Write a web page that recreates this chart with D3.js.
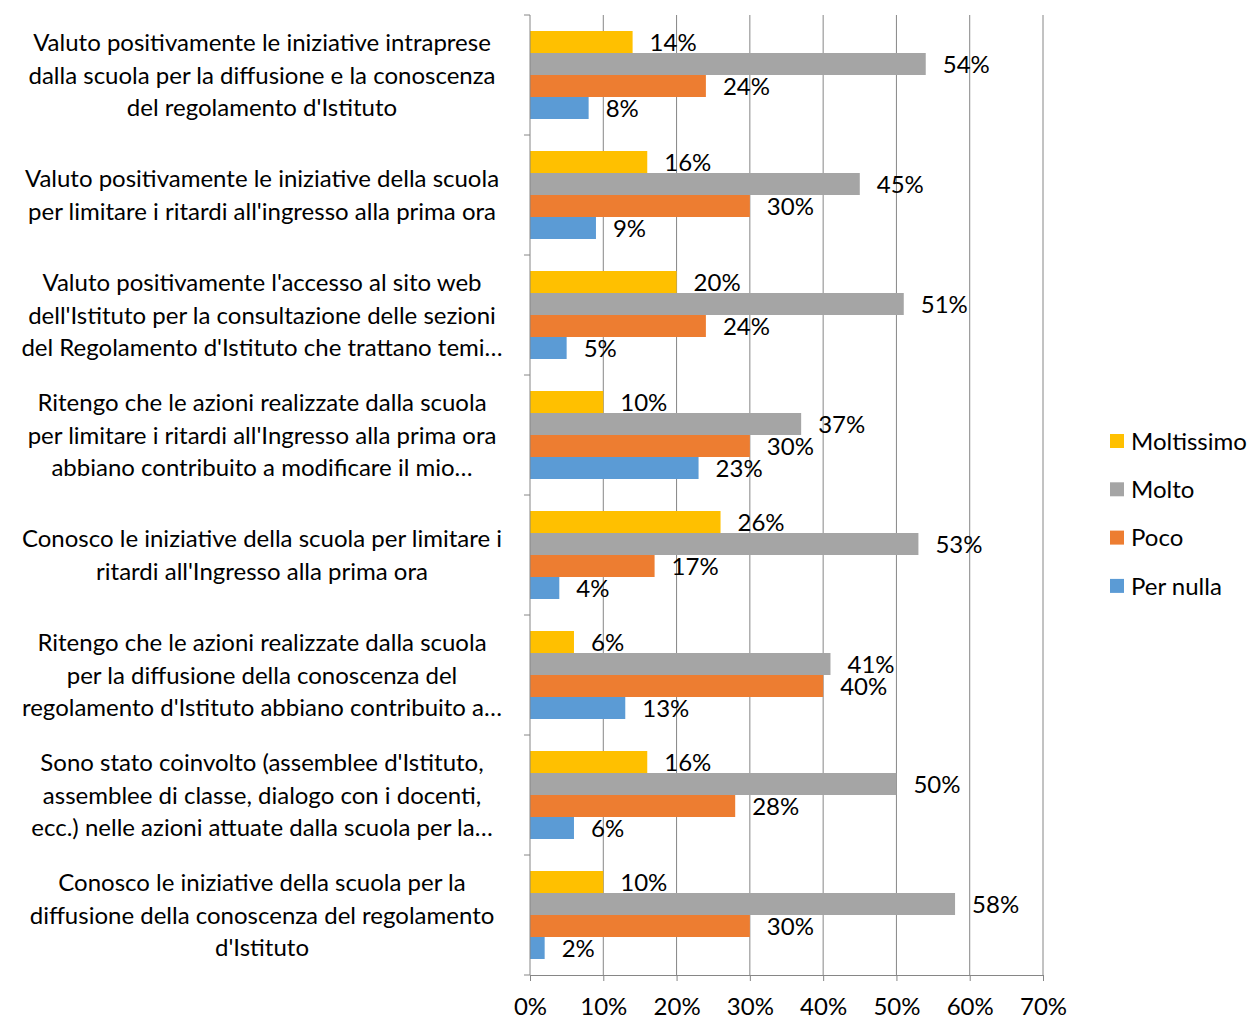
<!DOCTYPE html>
<html>
<head>
<meta charset="utf-8">
<script src="https://cdn.jsdelivr.net/npm/d3@7"></script>
<style>
  body { margin: 0; background: #fff; }
  text { font-family: Lato, "Open Sans", sans-serif; fill: #000; }
</style>
</head>
<body>
<div id="chart"></div>
<script>
// Categories (each one already split into lines as in the original)
const categories = [
  ["Valuto positivamente le iniziative intraprese", "dalla scuola per la diffusione e la conoscenza", "del regolamento d'Istituto"],
  ["Valuto positivamente le iniziative della scuola", "per limitare i ritardi all'ingresso alla prima ora"],
  ["Valuto positivamente l'accesso al sito web", "dell'Istituto per la consultazione delle sezioni", "del Regolamento d'Istituto che trattano temi…"],
  ["Ritengo che le azioni realizzate dalla scuola", "per limitare i ritardi all'Ingresso alla prima ora", "abbiano contribuito a modificare il mio…"],
  ["Conosco le iniziative della scuola per limitare i", "ritardi all'Ingresso alla prima ora"],
  ["Ritengo che le azioni realizzate dalla scuola", "per la diffusione della conoscenza del", "regolamento d'Istituto abbiano contribuito a…"],
  ["Sono stato coinvolto (assemblee d'Istituto,", "assemblee di classe, dialogo con i docenti,", "ecc.) nelle azioni attuate dalla scuola per la…"],
  ["Conosco le iniziative della scuola per la", "diffusione della conoscenza del regolamento", "d'Istituto"]
];

const seriesNames = ["Moltissimo", "Molto", "Poco", "Per nulla"];

// values in %, one array per series, same order as categories
const moltissimo = [14, 16, 20, 10, 26, 6, 16, 10];
const molto      = [54, 45, 51, 37, 53, 41, 50, 58];
const poco       = [24, 30, 24, 30, 17, 40, 28, 30];
const perNulla   = [8, 9, 5, 23, 4, 13, 6, 2];

const xTicks = [0, 10, 20, 30, 40, 50, 60, 70];

const seriesValues = [moltissimo, molto, poco, perNulla];
const colors = ["#FFC000", "#A5A5A5", "#ED7D31", "#5B9BD5"];

const width = 1253, height = 1019;
const plotLeft = 530, plotRight = 1043, plotTop = 15, plotBottom = 975;
const fontSize = 24;

const svg = d3.select("#chart").append("svg")
  .attr("width", width)
  .attr("height", height);

const x = d3.scaleLinear().domain([0, 70]).range([plotLeft, plotRight]);

const y0 = d3.scaleBand()
  .domain(d3.range(categories.length))
  .range([plotTop, plotBottom]);

const y1 = d3.scaleBand()
  .domain(seriesNames)
  .range([16, y0.bandwidth() - 16]);

// vertical gridlines
svg.append("g")
  .selectAll("line")
  .data(xTicks.slice(1))
  .enter().append("line")
  .attr("x1", d => x(d)).attr("x2", d => x(d))
  .attr("y1", plotTop).attr("y2", plotBottom)
  .attr("stroke", "#868686")
  .attr("stroke-width", 1);

// bars
const rows = [];
categories.forEach((c, i) => {
  seriesNames.forEach((s, j) => {
    rows.push({ cat: i, series: s, value: seriesValues[j][i], color: colors[j] });
  });
});

svg.append("g")
  .selectAll("rect")
  .data(rows)
  .enter().append("rect")
  .attr("x", x(0))
  .attr("y", d => y0(d.cat) + y1(d.series))
  .attr("width", d => x(d.value) - x(0))
  .attr("height", y1.bandwidth())
  .attr("fill", d => d.color);

// value labels
svg.append("g")
  .selectAll("text")
  .data(rows)
  .enter().append("text")
  .attr("x", d => x(d.value) + 17)
  .attr("y", d => y0(d.cat) + y1(d.series) + y1.bandwidth() / 2)
  .attr("dy", "0.36em")
  .style("font-size", fontSize + "px")
  .text(d => d.value + "%");

// x axis
const xAxis = svg.append("g")
  .attr("transform", `translate(0,${plotBottom})`)
  .call(d3.axisBottom(x).tickValues(xTicks).tickSize(6).tickPadding(17).tickFormat(d => d + "%"));
xAxis.select(".domain").attr("stroke", "#868686").attr("d", `M${plotLeft},0.5H${plotRight}`);
xAxis.selectAll(".tick line").attr("stroke", "#868686");
xAxis.selectAll("text").style("font-size", fontSize + "px").attr("fill", "#000");

// y axis line with ticks between categories
const yAxis = svg.append("g");
yAxis.append("line")
  .attr("x1", plotLeft).attr("x2", plotLeft)
  .attr("y1", plotTop).attr("y2", plotBottom)
  .attr("stroke", "#868686");
yAxis.selectAll(".ytick")
  .data(d3.range(categories.length + 1))
  .enter().append("line")
  .attr("x1", plotLeft - 6).attr("x2", plotLeft)
  .attr("y1", d => plotTop + d * y0.step()).attr("y2", d => plotTop + d * y0.step())
  .attr("stroke", "#868686");

// category labels
const lineH = 32.5;
const catLabels = svg.append("g")
  .selectAll("text")
  .data(categories)
  .enter().append("text")
  .attr("text-anchor", "middle")
  .style("font-size", fontSize + "px");

catLabels.each(function (lines, i) {
  const cy = y0(i) + y0.bandwidth() / 2;
  const start = cy - (lines.length - 1) * lineH / 2;
  d3.select(this).selectAll("tspan")
    .data(lines)
    .enter().append("tspan")
    .attr("x", 262)
    .attr("y", (d, k) => start + k * lineH)
    .attr("dy", "0.36em")
    .text(d => d);
});

// legend
const legend = svg.append("g")
  .attr("transform", "translate(1110, 441)");

const legendItems = legend.selectAll("g")
  .data(seriesNames)
  .enter().append("g")
  .attr("transform", (d, i) => `translate(0, ${i * 48.3})`);

legendItems.append("rect")
  .attr("y", -7)
  .attr("width", 14)
  .attr("height", 14)
  .attr("fill", (d, i) => colors[i]);

legendItems.append("text")
  .attr("x", 21)
  .attr("dy", "0.36em")
  .style("font-size", fontSize + "px")
  .text(d => d);
</script>
</body>
</html>
